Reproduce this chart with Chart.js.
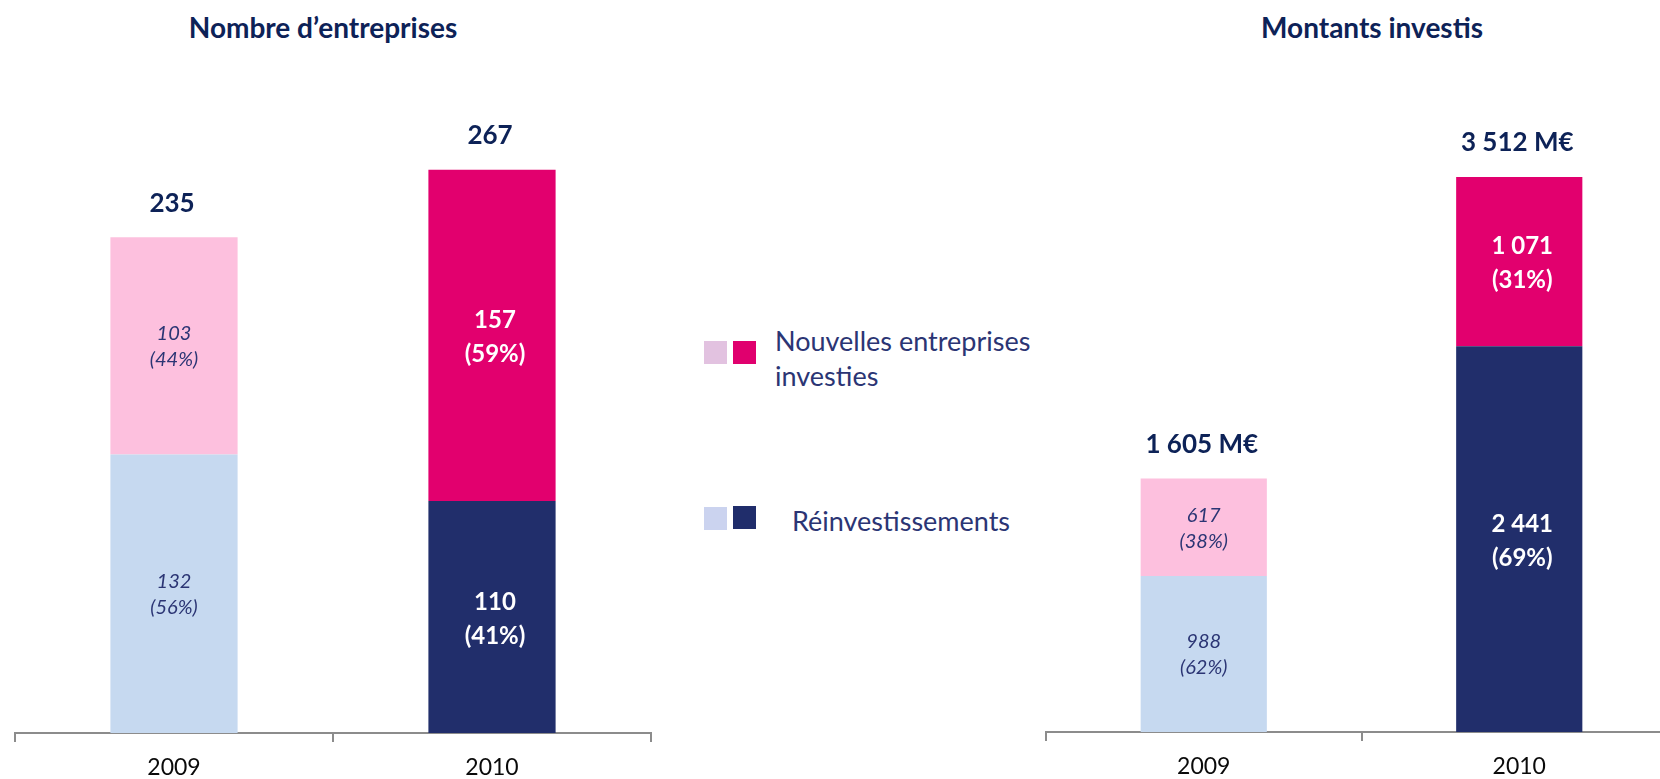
<!DOCTYPE html>
<html lang="fr">
<head>
<meta charset="utf-8">
<title>Nombre d’entreprises et montants investis</title>
<script src="https://cdn.jsdelivr.net/npm/chart.js@4.4.1/dist/chart.umd.min.js"></script>
<style>
  html, body { margin: 0; padding: 0; background: #fff; }
  body { width: 1660px; height: 779px; overflow: hidden; position: relative; font-family: Lato, "Open Sans", sans-serif; }
  canvas { position: absolute; top: 0; }
  #chartNombre { left: 0; }
  #chartMontants { left: 1020px; }
  .title { position: absolute; top: 10px; font-weight: bold; font-size: 28px; line-height: 34px; color: #0d2257; transform: translateX(-50%); white-space: nowrap; }
  .legend-box { position: absolute; width: 23px; height: 23px; }
  .legend-text { position: absolute; font-size: 27px; line-height: 35px; color: #2b3574; white-space: nowrap; }
</style>
</head>
<body>
<div class="title" style="left:323px">Nombre d’entreprises</div>
<div class="title" style="left:1372px">Montants investis</div>

<div class="legend-box" style="left:704px;top:341px;background:#e2c2e0"></div>
<div class="legend-box" style="left:733px;top:341px;background:#e0006e"></div>
<div class="legend-text" style="left:775px;top:323px">Nouvelles entreprises<br>investies</div>
<div class="legend-box" style="left:704px;top:507px;background:#cbd3ef"></div>
<div class="legend-box" style="left:733px;top:506px;background:#202d6b"></div>
<div class="legend-text" style="left:792px;top:503px">Réinvestissements</div>

<canvas id="chartNombre" width="680" height="800"></canvas>
<canvas id="chartMontants" width="680" height="800"></canvas>

<script>
// Données
const annees = ["2009", "2010"];

const nbReinvest = [132, 110];
const nbNouvelles = [103, 157];
const nbReinvestPct = ["56%", "41%"];
const nbNouvellesPct = ["44%", "59%"];

const mtReinvest = [988, 2441];
const mtNouvelles = [617, 1071];
const mtReinvestPct = ["62%", "69%"];
const mtNouvellesPct = ["38%", "31%"];

// Couleurs : 2009 clair, 2010 foncé
const couleursReinvest = ["#c6d9f0", "#212e6b"];
const couleursNouvelles = ["#fdc0de", "#e2006e"];

// Format "1 605"
function formatNombre(n) {
  return String(n).replace(/\B(?=(\d{3})+(?!\d))/g, " ");
}

// Plugin pour les étiquettes dans et au-dessus des barres
const etiquettesPlugin = {
  id: "etiquettes",
  afterDatasetsDraw(chart, args, opts) {
    const ctx = chart.ctx;
    ctx.save();
    ctx.textAlign = "center";
    ctx.textBaseline = "middle";

    chart.data.datasets.forEach((ds, di) => {
      const meta = chart.getDatasetMeta(di);
      meta.data.forEach((bar, i) => {
        const centre = (bar.y + bar.base) / 2;
        const valeur = formatNombre(ds.data[i]);
        const pct = "(" + ds.pcts[i] + ")";
        if (i === 0) {
          ctx.fillStyle = "#2b3574";
          ctx.font = "italic 20px Lato";
          ctx.fillText(valeur, bar.x, centre - 12);
          ctx.fillText(pct, bar.x, centre + 14);
        } else {
          ctx.fillStyle = "#ffffff";
          ctx.font = "bold 24px Lato";
          ctx.fillText(valeur, bar.x + 3, centre - 15);
          ctx.fillText(pct, bar.x + 3, centre + 19);
        }
      });
    });

    // Totaux au-dessus des barres
    const dernier = chart.getDatasetMeta(chart.data.datasets.length - 1);
    dernier.data.forEach((bar, i) => {
      let total = 0;
      chart.data.datasets.forEach((ds) => (total += ds.data[i]));
      ctx.fillStyle = "#0d2257";
      ctx.font = "bold 26px Lato";
      ctx.fillText(formatNombre(total) + (opts.suffixe || ""), bar.x - 2, bar.y - 34);
    });
    ctx.restore();
  },
};

function creerGraphique(id, reinvest, nouvelles, pctR, pctN, maxY, padding, options) {
  const ctx = document.getElementById(id).getContext("2d");
  return new Chart(ctx, {
    type: "bar",
    data: {
      labels: annees,
      datasets: [
        {
          label: "Réinvestissements",
          data: reinvest,
          pcts: pctR,
          backgroundColor: couleursReinvest,
          borderWidth: 0,
        },
        {
          label: "Nouvelles entreprises investies",
          data: nouvelles,
          pcts: pctN,
          backgroundColor: couleursNouvelles,
          borderWidth: 0,
        },
      ],
    },
    options: {
      responsive: false,
      animation: false,
      devicePixelRatio: 1,
      layout: { padding: padding },
      categoryPercentage: 1.0,
      barPercentage: 0.4,
      plugins: {
        legend: { display: false },
        tooltip: { enabled: false },
        etiquettes: options,
      },
      scales: {
        x: {
          stacked: true,
          grid: {
            offset: true,
            drawOnChartArea: false,
            drawTicks: true,
            tickLength: 9,
            lineWidth: 2,
            color: "#8c8c8c",
          },
          border: { display: true, color: "#8c8c8c", width: 2 },
          ticks: {
            color: "#0a0a0a",
            font: { family: "Lato", size: 23 },
            padding: 12,
          },
          afterFit: (scale) => {
            scale.height = 46;
          },
        },
        y: {
          stacked: true,
          display: false,
          min: 0,
          max: maxY,
        },
      },
    },
    plugins: [etiquettesPlugin],
  });
}

creerGraphique(
  "chartNombre",
  nbReinvest,
  nbNouvelles,
  nbReinvestPct,
  nbNouvellesPct,
  300,
  { left: 15, right: 29, top: 100, bottom: 21 },
  { suffixe: "" }
);

// Le graphique de droite dépasse le bord de la page, comme dans l'original
creerGraphique(
  "chartMontants",
  mtReinvest,
  mtNouvelles,
  mtReinvestPct,
  mtNouvellesPct,
  4000,
  { left: 26, right: 23, top: 100, bottom: 22 },
  { suffixe: " M€" }
);
</script>
</body>
</html>
